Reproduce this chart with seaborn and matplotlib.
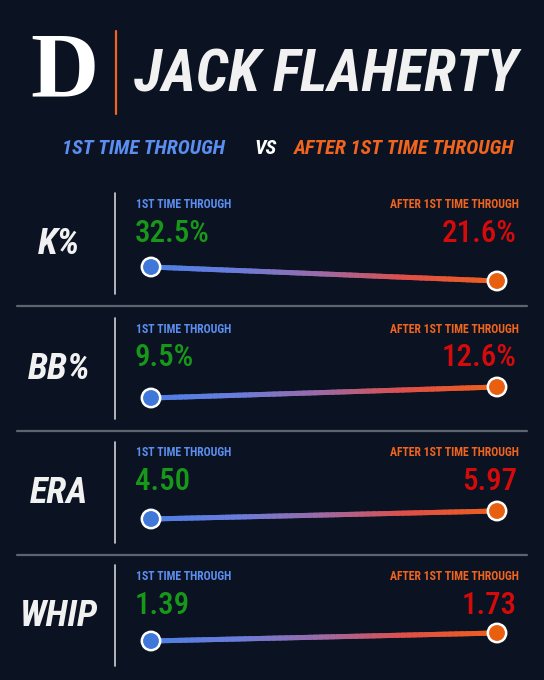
import numpy as np
import matplotlib.pyplot as plt
import seaborn as sns
from matplotlib.lines import Line2D
from matplotlib.collections import LineCollection
from matplotlib.colors import LinearSegmentedColormap

# data
player = "JACK FLAHERTY"
stages = ["1ST TIME THROUGH", "AFTER 1ST TIME THROUGH"]
stats = ["K%", "BB%", "ERA", "WHIP"]
first_time = [32.5, 9.5, 4.50, 1.39]
after_first = [21.6, 12.6, 5.97, 1.73]
first_labels = ["32.5%", "9.5%", "4.50", "1.39"]
after_labels = ["21.6%", "12.6%", "5.97", "1.73"]

# colours
BG = "#0b1221"
BLUE = "#5b8ef0"
ORANGE = "#f0641e"
GREEN = "#17981a"
RED = "#d50b0b"
DOT_BLUE = "#3f78d8"
DOT_ORANGE = "#e8600f"
grad = LinearSegmentedColormap.from_list(
    "thru", ["#4d7fe6", "#6a7cdc", "#9b6aa5", "#e04e48", "#ec5f1e"])

sns.set_theme(style="dark", rc={"figure.facecolor": BG, "axes.facecolor": BG,
                                "savefig.facecolor": BG})
plt.rcParams["font.family"] = ["Roboto Condensed", "Liberation Sans Narrow",
                               "DejaVu Sans Condensed", "Roboto"]

W, H = 544, 680
fig = plt.figure(figsize=(W / 100, H / 100), dpi=100)
renderer = fig.canvas.get_renderer()


def fx(x):
    return x / W


def fy(y):
    return 1 - y / H


def fit_width(t, width_px):
    w = t.get_window_extent(renderer=renderer).width
    t.set_fontsize(t.get_fontsize() * width_px / w)
    return t.get_fontsize()


# header
fig.text(fx(64), fy(74), "D", color="white", fontsize=68, weight="bold",
         family="Liberation Serif", ha="center", va="center")
fig.add_artist(Line2D([fx(116), fx(116)], [fy(31), fy(114)], color=ORANGE, lw=1.6))
title = fig.text(fx(134), fy(76), player, color="#f1f1f1", fontsize=40,
                 weight="bold", style="italic", ha="left", va="center")
fit_width(title, 383)

sub = fig.text(fx(62), fy(148), stages[0], color=BLUE, fontsize=15, weight="bold",
               style="italic", ha="left", va="center")
sub2 = fig.text(fx(514), fy(148), stages[1], color=ORANGE, fontsize=15, weight="bold",
                style="italic", ha="right", va="center")
sub_fs = min(fit_width(sub, 178), fit_width(sub2, 222))
sub.set_fontsize(sub_fs)
sub2.set_fontsize(sub_fs)
fig.text(fx(266), fy(148), "VS", color="white", fontsize=sub_fs, weight="bold",
         style="italic", ha="center", va="center")

# panel layout (pixel rows)
label_y = [204, 329, 453, 576]
line_span = [(267, 281), (387, 398), (511, 519), (633, 641)]

probe = fig.text(0, 0, "WHIP", fontsize=30, weight="bold", style="italic")
stat_fs = fit_width(probe, 78)
probe.remove()
probe = fig.text(0, 0, first_labels[0], fontsize=20, weight="medium")
num_fs = fit_width(probe, 75)
probe.remove()
probe = fig.text(0, 0, stages[0], fontsize=9, weight="bold")
small_fs = fit_width(probe, 97)
probe.remove()

for i, stat in enumerate(stats):
    ly = label_y[i]
    fig.text(fx(59), fy(ly + 40), stat, color="#f1f1f1", fontsize=stat_fs,
             weight="bold", style="italic", ha="center", va="center")
    fig.add_artist(Line2D([fx(115), fx(115)], [fy(ly - 11), fy(ly + 90)],
                          color="#cfd2d6", lw=1.2))
    if i < len(stats) - 1:
        fig.add_artist(Line2D([fx(17), fx(527)], [fy(ly + 102)] * 2,
                              color="#5d6470", lw=1.6))

    fig.text(fx(136), fy(ly), stages[0], color=BLUE, fontsize=small_fs,
             weight="bold", ha="left", va="center")
    fig.text(fx(519), fy(ly), stages[1], color=ORANGE, fontsize=small_fs,
             weight="bold", ha="right", va="center")
    fig.text(fx(135), fy(ly + 29), first_labels[i], color=GREEN, fontsize=num_fs,
             weight="medium", ha="left", va="center")
    fig.text(fx(517), fy(ly + 29), after_labels[i], color=RED, fontsize=num_fs,
             weight="medium", ha="right", va="center")

    top, bot = line_span[i]
    ax = fig.add_axes([fx(151), fy(bot), fx(497) - fx(151), (bot - top) / H])
    vals = [first_time[i], after_first[i]]
    ax.set_xlim(0, 1)
    ax.set_ylim(min(vals), max(vals))
    ax.axis("off")

    t = np.linspace(0, 1, 60)
    ys = vals[0] + (vals[1] - vals[0]) * t
    pts = np.column_stack([t, ys]).reshape(-1, 1, 2)
    segs = np.concatenate([pts[:-1], pts[1:]], axis=1)
    lc = LineCollection(segs, cmap=grad, linewidth=3.6, clip_on=False,
                        capstyle="projecting")
    lc.set_array(t[:-1])
    ax.add_collection(lc)

    sns.scatterplot(x=[0, 1], y=vals, hue=stages, palette=[DOT_BLUE, DOT_ORANGE],
                    s=175, edgecolor="white", linewidth=1.8, legend=False,
                    ax=ax, clip_on=False, zorder=3)

fig.savefig("out.png", dpi=100)
